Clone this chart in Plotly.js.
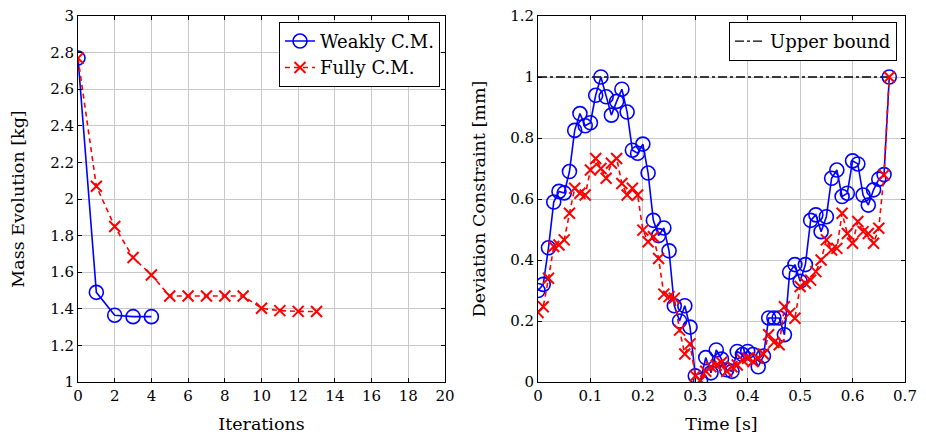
<!DOCTYPE html>
<html>
<head>
<meta charset="utf-8">
<script src="https://cdn.plot.ly/plotly-3.0.1.min.js"></script>
<style>html,body{margin:0;padding:0;background:#fff;}#chart{width:926px;height:438px;}</style>
</head>
<body>
<div id="chart"></div>
<script>
// Left chart: mass evolution per iteration
const iterWeak = [0, 1, 2, 3, 4];
const massWeak = [2.77, 1.49, 1.365, 1.357, 1.357];
const iterFull = [0, 1, 2, 3, 4, 5, 6, 7, 8, 9, 10, 11, 12, 13];
const massFull = [2.77, 2.07, 1.85, 1.68, 1.585, 1.47, 1.47, 1.47, 1.47, 1.47, 1.403, 1.39, 1.386, 1.385];

// Right chart: deviation constraint over time
const timeS = [0,0.01,0.02,0.03,0.04,0.05,0.06,0.07,0.08,0.09,0.10,0.11,0.12,0.13,0.14,0.15,0.16,0.17,0.18,0.19,
  0.20,0.21,0.22,0.23,0.24,0.25,0.26,0.27,0.28,0.29,0.30,0.31,0.32,0.33,0.34,0.35,0.36,0.37,0.38,0.39,
  0.40,0.41,0.42,0.43,0.44,0.45,0.46,0.47,0.48,0.49,0.50,0.51,0.52,0.53,0.54,0.55,0.56,0.57,0.58,0.59,
  0.60,0.61,0.62,0.63,0.64,0.65,0.66,0.67];
const devWeak = [0.30,0.32,0.44,0.59,0.625,0.62,0.69,0.825,0.88,0.84,
  0.85,0.94,1.00,0.935,0.875,0.92,0.96,0.885,0.76,0.75,
  0.78,0.685,0.53,0.48,0.505,0.43,0.25,0.20,0.25,0.18,
  0.02,0.005,0.08,0.03,0.105,0.075,0.04,0.035,0.10,0.09,
  0.10,0.09,0.05,0.085,0.21,0.21,0.21,0.155,0.36,0.385,
  0.33,0.385,0.53,0.548,0.493,0.542,0.668,0.695,0.608,0.619,
  0.725,0.715,0.613,0.58,0.63,0.665,0.68,1.00];
const devFull = [0.228,0.247,0.34,0.444,0.449,0.466,0.553,0.635,0.619,0.613,
  0.695,0.733,0.70,0.668,0.717,0.733,0.651,0.613,0.635,0.613,
  0.498,0.46,0.476,0.405,0.288,0.28,0.275,0.17,0.092,0.125,
  0.02,0.005,0.035,0.05,0.055,0.065,0.035,0.05,0.056,0.072,
  0.078,0.067,0.078,0.092,0.155,0.13,0.122,0.247,0.225,0.209,
  0.313,0.324,0.334,0.362,0.40,0.466,0.433,0.438,0.553,0.487,
  0.455,0.526,0.493,0.487,0.455,0.504,0.679,1.00];
const boundX = [0, 0.67];
const boundY = [1, 1];

const FONT = "'DejaVu Serif', 'Liberation Serif', serif";
const blue = '#0000ff', red = '#ff0000';

const traces = [
  {x: iterWeak, y: massWeak, type: 'scatter', mode: 'lines+markers', name: 'Weakly C.M.',
   xaxis: 'x', yaxis: 'y', legend: 'legend',
   line: {color: blue, width: 1.6},
   marker: {symbol: 'circle-open', size: 14, color: blue, line: {width: 1.6, color: blue}}},
  {x: iterFull, y: massFull, type: 'scatter', mode: 'lines+markers', name: 'Fully C.M.',
   xaxis: 'x', yaxis: 'y', legend: 'legend',
   line: {color: red, width: 1.6, dash: '5px,4px'},
   marker: {symbol: 'x-thin-open', size: 11, color: red, line: {width: 2, color: red}}},
  {x: boundX, y: boundY, type: 'scatter', mode: 'lines', name: 'Upper bound',
   xaxis: 'x2', yaxis: 'y2', legend: 'legend2',
   line: {color: '#000', width: 1.3, dash: 'dashdot'}},
  {x: timeS, y: devWeak, type: 'scatter', mode: 'lines+markers', name: 'Weakly C.M.',
   xaxis: 'x2', yaxis: 'y2', showlegend: false,
   line: {color: blue, width: 1.6},
   marker: {symbol: 'circle-open', size: 14, color: blue, line: {width: 1.6, color: blue}}},
  {x: timeS, y: devFull, type: 'scatter', mode: 'lines+markers', name: 'Fully C.M.',
   xaxis: 'x2', yaxis: 'y2', showlegend: false,
   line: {color: red, width: 1.6, dash: '5px,4px'},
   marker: {symbol: 'x-thin-open', size: 11, color: red, line: {width: 2, color: red}}}
];

function ax(extra) {
  return Object.assign({
    showline: true, linecolor: '#000', linewidth: 1, mirror: 'ticks',
    ticks: 'inside', ticklen: 4, tickcolor: '#000',
    showgrid: true, gridcolor: '#c8c8c8', gridwidth: 1,
    zeroline: false, tickfont: {family: FONT, size: 15, color: '#000'}
  }, extra);
}

const TF = {family: FONT, size: 17.5, color: '#000'};
const layout = {
  width: 926, height: 438,
  margin: {l: 0, r: 0, t: 16, b: 56},
  paper_bgcolor: '#fff', plot_bgcolor: '#fff',
  font: {family: FONT, size: 16, color: '#000'},
  xaxis: ax({domain: [78/926, 445/926], range: [0, 20], dtick: 2, anchor: 'y',
    title: {text: 'Iterations', font: TF, standoff: 13}}),
  yaxis: ax({domain: [0, 1], range: [1, 3], dtick: 0.2, anchor: 'x',
    title: {text: 'Mass Evolution [kg]', font: TF, standoff: 21}}),
  xaxis2: ax({domain: [538/926, 905/926], range: [0, 0.7], dtick: 0.1, anchor: 'y2',
    title: {text: 'Time [s]', font: TF, standoff: 13}}),
  yaxis2: ax({domain: [0, 1], range: [0, 1.2], dtick: 0.2, anchor: 'x2',
    title: {text: 'Deviation Constraint [mm]', font: TF, standoff: 20}}),
  legend: {x: 440/926, y: 0.984, xanchor: 'right', yanchor: 'top', xref: 'paper', yref: 'paper',
    bgcolor: '#fff', bordercolor: '#000', borderwidth: 1,
    font: {family: FONT, size: 18, color: '#000'}, tracegroupgap: 0, itemwidth: 30},
  legend2: {x: 897/926, y: 0.984, xanchor: 'right', yanchor: 'top', xref: 'paper', yref: 'paper',
    bgcolor: '#fff', bordercolor: '#000', borderwidth: 1,
    font: {family: FONT, size: 18, color: '#000'}, itemwidth: 30},
  showlegend: true
};

Plotly.newPlot('chart', traces, layout, {displayModeBar: false, staticPlot: true});
</script>
</body>
</html>
